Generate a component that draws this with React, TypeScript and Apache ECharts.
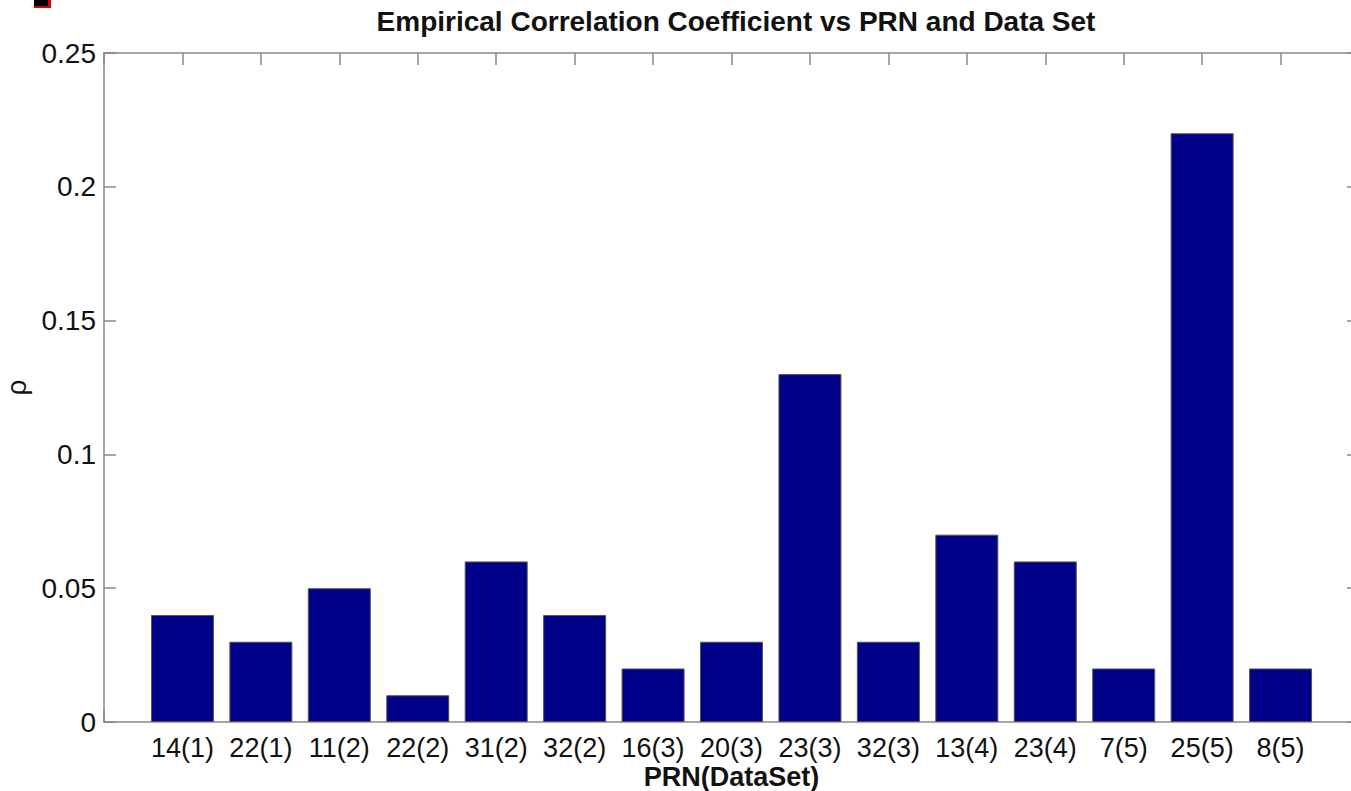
import React, { useEffect, useRef } from "react";
import * as echarts from "echarts";

const categories = ["14(1)", "22(1)", "11(2)", "22(2)", "31(2)", "32(2)", "16(3)", "20(3)", "23(3)", "32(3)", "13(4)", "23(4)", "7(5)", "25(5)", "8(5)"];
const rhoValues = [0.04, 0.03, 0.05, 0.01, 0.06, 0.04, 0.02, 0.03, 0.13, 0.03, 0.07, 0.06, 0.02, 0.22, 0.02];
const yTicks = [0, 0.05, 0.1, 0.15, 0.2, 0.25];

const FONT = "'Liberation Sans', Arial, Helvetica, sans-serif";
const AXIS_COLOR = "#888888";

export default function App() {
  const ref = useRef<HTMLDivElement>(null);
  useEffect(() => {
    if (!ref.current) return;
    const chart = echarts.init(ref.current, undefined, { renderer: "svg" });
    const barData = rhoValues.map((v, i) => [i + 1, v]);
    const xMin = 0;
    const xMax = categories.length + 1;
    const yMax = yTicks[yTicks.length - 1];
    const yStep = yTicks[1] - yTicks[0];
    const tickStyle = { show: true, inside: true, length: 12, lineStyle: { color: AXIS_COLOR, width: 1.5 } };
    const lineStyle = { show: true, lineStyle: { color: AXIS_COLOR, width: 1.5 } };
    chart.setOption({
      animation: false,
      backgroundColor: "#ffffff",
      title: {
        text: "Empirical Correlation Coefficient vs PRN and Data Set",
        left: 731,
        textAlign: "center",
        top: 2,
        textStyle: { fontFamily: FONT, fontSize: 28, fontWeight: "bold", color: "#111" },
      },
      grid: { left: 104, top: 53, right: -8, bottom: 69, containLabel: false, outerBoundsMode: "none" },
      xAxis: [
        {
          type: "value",
          min: xMin,
          max: xMax,
          interval: 1,
          position: "bottom",
          name: "PRN(DataSet)",
          nameLocation: "middle",
          nameGap: 43,
          nameMoveOverlap: false,
          nameTextStyle: { fontFamily: FONT, fontSize: 27, fontWeight: "bold", color: "#111", lineHeight: 24 },
          axisLine: { ...lineStyle, onZero: false },
          axisTick: tickStyle,
          splitLine: { show: false },
          axisLabel: {
            fontFamily: FONT,
            fontSize: 27,
            lineHeight: 24,
            color: "#111",
            margin: 14,
            formatter: (v: number) => (v >= 1 && v <= categories.length ? categories[v - 1] : ""),
          },
        },
        {
          type: "value",
          min: xMin,
          max: xMax,
          interval: 1,
          position: "top",
          axisLine: { ...lineStyle, onZero: false },
          axisTick: tickStyle,
          splitLine: { show: false },
          axisLabel: { show: false },
        },
      ],
      yAxis: [
        {
          type: "value",
          min: 0,
          max: yMax,
          interval: yStep,
          position: "left",
          name: "ρ",
          nameLocation: "middle",
          nameRotate: 90,
          nameGap: 74,
          nameMoveOverlap: false,
          nameTextStyle: { fontFamily: FONT, fontSize: 28, color: "#111" },
          axisLine: { ...lineStyle, onZero: false },
          axisTick: tickStyle,
          splitLine: { show: false },
          axisLabel: { fontFamily: FONT, fontSize: 28, color: "#111", margin: 8 },
        },
        {
          type: "value",
          min: 0,
          max: yMax,
          interval: yStep,
          position: "right",
          axisLine: { ...lineStyle, onZero: false },
          axisTick: tickStyle,
          splitLine: { show: false },
          axisLabel: { show: false },
        },
      ],
      series: [
        {
          type: "bar",
          xAxisIndex: 0,
          yAxisIndex: 0,
          data: barData,
          barWidth: 63,
          itemStyle: { color: "#000088", borderColor: "#555555", borderWidth: 1 },
        },
      ],
      graphic: [
        { type: "rect", shape: { x: 34, y: 0, width: 17, height: 8 }, style: { fill: "#dd0000" } },
        { type: "rect", shape: { x: 34, y: 0, width: 14, height: 6 }, style: { fill: "#000000" } },
      ],
    });
    return () => chart.dispose();
  }, []);
  return (
    <div
      ref={ref}
      style={{ position: "fixed", left: 0, top: 0, width: 1351, height: 791, background: "#fff" }}
    />
  );
}
